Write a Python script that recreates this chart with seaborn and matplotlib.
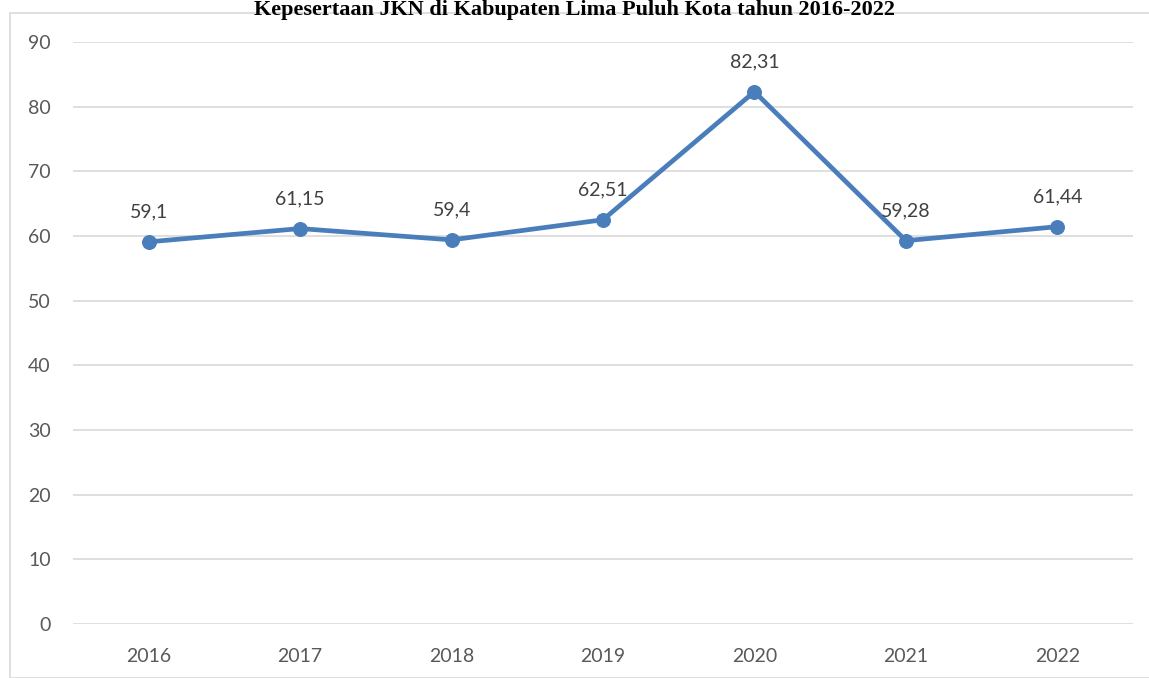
import matplotlib
matplotlib.use("Agg")
import matplotlib.pyplot as plt
from matplotlib.patches import Rectangle
import seaborn as sns
import pandas as pd

years = ["2016", "2017", "2018", "2019", "2020", "2021", "2022"]
values = [59.1, 61.15, 59.4, 62.51, 82.31, 59.28, 61.44]
value_labels = ["59,1", "61,15", "59,4", "62,51", "82,31", "59,28", "61,44"]
y_ticks = [0, 10, 20, 30, 40, 50, 60, 70, 80, 90]
title = "Kepesertaan JKN di Kabupaten Lima Puluh Kota tahun 2016-2022"

sns.set_theme(style="white")
plt.rcParams["font.family"] = ["Lato", "DejaVu Sans"]

W, H = 1149, 678
fig = plt.figure(figsize=(W / 100, H / 100), dpi=100)
ax = fig.add_axes([73 / W, 1 - 624 / H, (1133 - 73) / W, (624 - 42) / H])

# outer chart-area frame
fig.patches.append(Rectangle((10 / W, 0), 1.2, 1 - 13 / H, transform=fig.transFigure,
                             fill=False, edgecolor="#D9D9D9", linewidth=1.2, zorder=0))

df = pd.DataFrame({"year": years, "value": values})
line_color = "#4A7EBB"
sns.lineplot(data=df, x="year", y="value", ax=ax, sort=False, color=line_color,
             linewidth=3.4, marker="o", markersize=10, markeredgecolor=line_color,
             clip_on=False, zorder=3)

for i, (v, lab) in enumerate(zip(values, value_labels)):
    ax.annotate(lab, (i, v), xytext=(0, 21.5), textcoords="offset points",
                ha="center", va="center", fontsize=14, color="#404040", zorder=4)

ax.set_xlim(-0.5, len(years) - 0.5)
ax.set_ylim(0, 90)
ax.set_yticks(y_ticks)
ax.yaxis.grid(True, color="#D9D9D9", linewidth=1.2)
ax.set_axisbelow(True)
for s in ax.spines.values():
    s.set_visible(False)
ax.tick_params(axis="both", length=0, labelsize=14, labelcolor="#595959")
ax.tick_params(axis="x", pad=17)
ax.tick_params(axis="y", pad=16)
ax.set_xlabel("")
ax.set_ylabel("")

fig.text(0.5, 1 - 0.5 / H, title, ha="center", va="top", fontsize=16,
         fontweight="bold", family=["Liberation Serif", "DejaVu Serif"], color="black")

fig.savefig("out.png", dpi=100, facecolor="white")
